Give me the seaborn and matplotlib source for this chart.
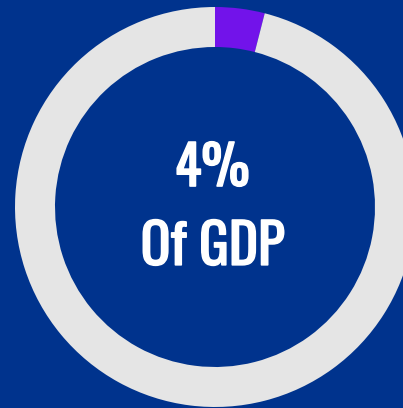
import matplotlib
matplotlib.use("Agg")
import matplotlib.pyplot as plt
import matplotlib.patheffects as pe
import seaborn as sns
from matplotlib import font_manager
from matplotlib.font_manager import FontProperties
from matplotlib.textpath import TextPath

# Data
labels = ["Share of GDP", "Rest"]
values = [4, 96]
center_line1 = "4%"
center_line2 = "Of GDP"

BG = "#00338D"
colors = ["#7213EA", "#E5E5E5"]

sns.set_theme(style="white")
names = {f.name for f in font_manager.fontManager.ttflist}
FAMILY = next((n for n in ["Oswald", "Fjalla One", "Antonio", "Barlow Condensed"] if n in names), "DejaVu Sans")
plt.rcParams["font.family"] = [FAMILY, "DejaVu Sans"]

W, H = 403, 408
fig = plt.figure(figsize=(W / 100, H / 100), dpi=100, facecolor=BG)
ax = fig.add_axes([0, 0, 1, 1])
ax.set_facecolor(BG)

ax.pie(values, colors=colors, radius=200, center=(215, H - 207), startangle=90,
       counterclock=False, wedgeprops=dict(width=40, linewidth=0), frame=True)
ax.set_xlim(0, W)
ax.set_ylim(0, H)
ax.set_aspect("equal")
ax.axis("off")

STROKE_PT = 1.1
half_px = STROKE_PT * 100 / 72 / 2


def place(s, left, top, right, bottom, weight="bold"):
    left, right, top, bottom = left + half_px, right - half_px, top + half_px, bottom - half_px
    fp = FontProperties(family=FAMILY, weight=weight)
    ext = TextPath((0, 0), s, size=100, prop=fp).get_extents()
    unit = (1 / 100) * (100 / 72)
    fs_h = (bottom - top) / (ext.height * unit)
    fs_w = (right - left) / (ext.width * unit)
    fs = 0.5 * (fs_h + fs_w)
    k = fs * unit
    cx = 0.5 * (left + right)
    x = cx - (ext.x0 + ext.width / 2) * k
    cy = 0.5 * (top + bottom)
    y = (H - cy) - (ext.y0 + ext.height / 2) * k
    ax.text(x, y, s, ha="left", va="baseline", color="white",
            fontsize=fs, fontweight=weight, family=[FAMILY, "DejaVu Sans"],
            path_effects=[pe.withStroke(linewidth=STROKE_PT, foreground="white")])


place(center_line1, 181, 138, 244, 190)
place(center_line2, 145, 218, 282, 267)

fig.savefig("out.png", dpi=100, facecolor=BG)
